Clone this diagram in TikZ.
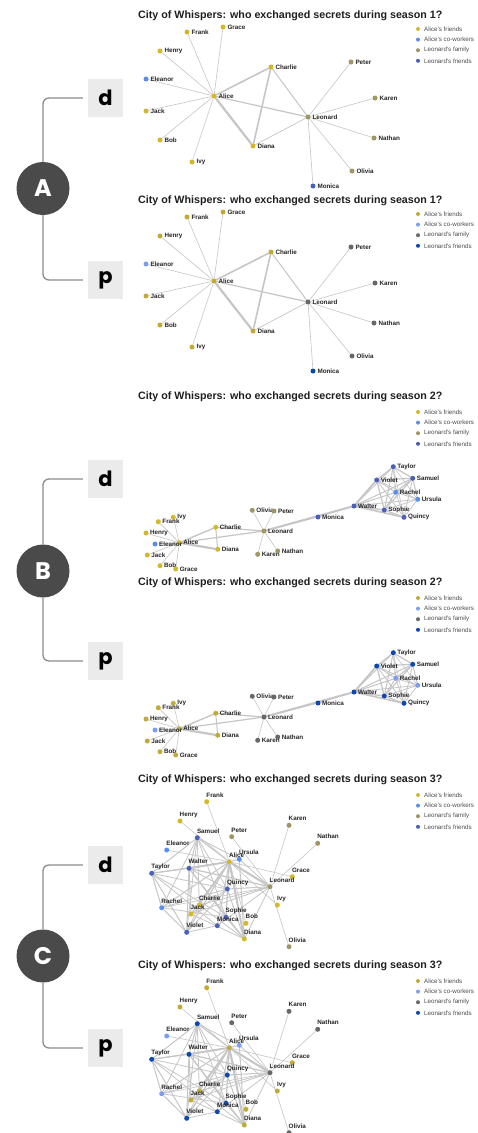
\documentclass[tikz,border=0pt]{standalone}
\usepackage{fontspec}
\setmainfont{Liberation Sans}
\newfontfamily\badgefont{Poppins}
\pgfdeclarelayer{background}
\pgfdeclarelayer{canvas}
\pgfsetlayers{canvas,background,main}
\definecolor{dF}{HTML}{D4B829}
\definecolor{dC}{HTML}{5A8EEF}
\definecolor{dL}{HTML}{A09565}
\definecolor{dN}{HTML}{4A60BA}
\definecolor{pF}{HTML}{C3A935}
\definecolor{pC}{HTML}{7B9EF2}
\definecolor{pL}{HTML}{686868}
\definecolor{pN}{HTML}{0B47B5}
\definecolor{edgec}{HTML}{C6C6C6}
\definecolor{badge}{HTML}{4A4A4A}
\definecolor{boxc}{HTML}{EBEBEB}
\definecolor{brk}{HTML}{8C8C8C}
\tikzset{
 dot/.style={circle, inner sep=0pt, minimum size=5pt},
 ldot/.style={circle, inner sep=0pt, minimum size=4pt},
 lbl/.style={font=\fontsize{6.3}{7}\selectfont\bfseries, text=black!85, inner sep=0pt},
 legtxt/.style={font=\fontsize{6.2}{7}\selectfont, text=black!70, inner sep=0pt, anchor=west},
 ttl/.style={font=\fontsize{10.7}{12}\selectfont\bfseries, text=black!88, inner sep=0pt, anchor=base west},
 edge/.style={draw=edgec, line cap=round},
 badgec/.style={circle, fill=badge, minimum size=53pt, inner sep=0pt, text=white, font=\badgefont\fontsize{24}{24}\selectfont\bfseries},
 tag/.style={fill=boxc, minimum width=35pt, minimum height=38pt, inner sep=0pt, font=\badgefont\fontsize{21}{21}\selectfont\bfseries},
 brack/.style={draw=brk, line width=1.3pt, rounded corners=6pt},
}
\newcommand\legendblock[3]{%
 \foreach \i/\c/\t in {0/F/Alice's friends,1/C/Alice's co-workers,2/L/Leonard's family,3/N/Leonard's friends}{
  \node[ldot, fill=#2\c] (#1-leg\i) at (418, #3+10.6*\i) {};
  \node[legtxt] (#1-legt\i) at (424, #3+10.6*\i) {\t};
 }}
\newcommand\titleblock[3]{\node[ttl] (#1-title) at (138,#2+4) {City of Whispers: who exchanged secrets during season #3?};}
% season 1
\newcommand\graphA[3]{%
 \foreach \n/\x/\y/\c in {Alice/214/96/F, Frank/187/32/F, Grace/223/27/F, Henry/160/51/F, Eleanor/146/79/C, Jack/146/111/F, Bob/160/140/F, Ivy/192/162/F, Charlie/271/67/F, Diana/253/146/F, Leonard/308/117/L, Peter/351/62/L, Karen/375/98/L, Nathan/374/138/L, Olivia/352/171/L, Monica/313/186/N}{
  \node[dot, fill=#2\c] (#1-\n) at (\x,\y+#3) {};
  \node[lbl, anchor=west] (#1-\n-l) at ([xshift=1.6pt]#1-\n.east) {\n};
 }
 \begin{pgfonlayer}{background}
 \foreach \a/\b/\w in {Alice/Frank/0.6, Alice/Grace/0.6, Alice/Henry/0.6, Alice/Eleanor/0.6, Alice/Jack/0.6, Alice/Bob/0.6, Alice/Ivy/0.6, Alice/Charlie/1.6, Alice/Diana/2.2, Alice/Leonard/1.2, Charlie/Diana/1.6, Charlie/Leonard/1.0, Diana/Leonard/0.7, Leonard/Peter/0.6, Leonard/Karen/0.6, Leonard/Nathan/0.6, Leonard/Olivia/0.6, Leonard/Monica/0.6}{
  \draw[edge, line width=\w pt] (#1-\a) -- (#1-\b);}
 \end{pgfonlayer}}
% season 2
\newcommand\graphB[3]{%
 \foreach \n/\x/\y/\c in {Taylor/393.3/466.7/N, Violet/376.7/480/N, Samuel/412.7/478.3/N, Rachel/395.7/492.3/C, Ursula/417.7/499.3/C, Walter/354/506/N, Sophie/384.3/510/N, Quincy/404/517.3/N, Monica/318/517/N, Olivia/252.3/510.3/L, Peter/274/511/L, Leonard/264/531/L, Charlie/215.7/527.3/F, Diana/217.7/549.3/F, Alice/179.3/542.7/F, Ivy/173.3/517.3/F, Frank/158.3/521.7/F, Henry/146/533/F, Eleanor/155/544/C, Jack/147.3/555/F, Bob/160/565.7/F, Grace/175.7/569/F, Karen/257.7/554.3/L, Nathan/277.7/551/L}{
  \node[dot, fill=#2\c] (#1-\n) at (\x,\y+#3) {};
  \node[lbl, anchor=west] (#1-\n-l) at ([xshift=1.2pt]#1-\n.east) {\n};
 }
 \begin{pgfonlayer}{background}
 \foreach \a/\b/\w in {Alice/Frank/0.6, Alice/Ivy/0.6, Alice/Henry/0.6, Alice/Eleanor/0.6, Alice/Jack/0.6, Alice/Bob/0.6, Alice/Grace/0.6, Alice/Charlie/1.4, Alice/Diana/2.2, Alice/Leonard/1.2, Charlie/Diana/1.0, Charlie/Leonard/1.2, Leonard/Olivia/0.6, Leonard/Peter/0.6, Leonard/Karen/0.6, Leonard/Nathan/0.6, Leonard/Walter/2.0, Leonard/Monica/0.8, Monica/Walter/0.8,
 Walter/Violet/1.8, Walter/Taylor/1.0, Walter/Samuel/1.0, Walter/Rachel/1.0, Walter/Ursula/0.8, Walter/Sophie/1.4, Walter/Quincy/1.6, Violet/Taylor/1.2, Violet/Samuel/1.2, Violet/Rachel/1.0, Violet/Ursula/0.8, Violet/Sophie/1.2, Violet/Quincy/0.8, Taylor/Samuel/1.2, Taylor/Rachel/1.0, Taylor/Ursula/0.6, Taylor/Sophie/1.0, Taylor/Quincy/0.6, Samuel/Rachel/1.0, Samuel/Ursula/1.0, Samuel/Sophie/1.2, Samuel/Quincy/0.8, Rachel/Ursula/0.8, Rachel/Sophie/1.0, Rachel/Quincy/0.8, Ursula/Sophie/0.8, Ursula/Quincy/0.8, Sophie/Quincy/1.2}{
  \draw[edge, line width=\w pt] (#1-\a) -- (#1-\b);}
 \end{pgfonlayer}}
% season 3
\newcommand\graphC[3]{%
 \foreach \n/\x/\y/\c in {Frank/206.7/801.7/F, Henry/180/821/F, Samuel/197.3/837.7/N, Peter/231.7/836.7/L, Karen/289/825.3/L, Nathan/317.7/843.3/L, Eleanor/166.7/850/C, Alice/229.3/861.7/F, Ursula/239.3/859.3/C, Walter/189/868.3/N, Taylor/151.7/873.3/N, Grace/292.3/876.7/F, Leonard/270/886.7/L, Quincy/227.3/889/N, Ivy/277.3/905/F, Rachel/161.7/907.7/C, Charlie/199.3/905/F, Jack/191/914/F, Sophie/226/917.3/N, Monica/217.3/925.7/N, Bob/246/923.3/F, Violet/186.7/932.3/N, Diana/244.3/939/F, Olivia/289/946.7/L}{
  \node[dot, fill=#2\c] (#1-\n) at (\x,\y+#3) {};
  \node[lbl, anchor=base west] (#1-\n-l) at (\x-0.5,\y+#3-4.5) {\n};
 }
 \begin{pgfonlayer}{background}
 \foreach \a/\b/\w in {Alice/Frank/0.6, Alice/Henry/0.6, Alice/Eleanor/0.6, Alice/Grace/0.6, Alice/Ivy/0.6, Alice/Bob/0.6, Leonard/Peter/0.6, Leonard/Karen/0.6, Leonard/Nathan/0.6, Leonard/Olivia/0.6,
 Alice/Leonard/2.0, Alice/Diana/2.0, Alice/Walter/1.8, Alice/Samuel/1.0, Alice/Taylor/1.0, Alice/Rachel/1.0, Alice/Violet/1.2, Alice/Jack/1.2, Alice/Charlie/1.0, Alice/Sophie/1.2, Alice/Quincy/1.0, Alice/Monica/1.0, Alice/Ursula/1.0,
 Walter/Leonard/1.2, Walter/Taylor/1.0, Walter/Samuel/1.0, Walter/Violet/1.0, Walter/Jack/1.0, Walter/Sophie/1.0, Walter/Diana/1.0, Walter/Quincy/0.8,
 Samuel/Taylor/1.0, Samuel/Rachel/0.8, Samuel/Violet/0.8, Samuel/Quincy/0.8, Samuel/Charlie/0.8, Samuel/Sophie/0.8, Samuel/Ursula/0.8,
 Taylor/Rachel/1.0, Taylor/Violet/1.0, Taylor/Quincy/0.8, Taylor/Sophie/0.8, Taylor/Monica/0.8,
 Rachel/Violet/1.0, Rachel/Quincy/0.8, Rachel/Sophie/0.8, Rachel/Leonard/0.6,
 Violet/Monica/0.8, Violet/Quincy/0.8, Violet/Charlie/0.8,
 Quincy/Leonard/1.0, Quincy/Jack/0.8, Quincy/Diana/1.0,
 Leonard/Charlie/0.8, Leonard/Diana/0.8, Leonard/Jack/0.8, Leonard/Monica/0.8,
 Charlie/Diana/0.8, Jack/Diana/0.8, Sophie/Diana/1.0, Monica/Sophie/0.8, Ursula/Diana/1.0, Ursula/Leonard/0.8}{
  \draw[edge, line width=\w pt] (#1-\a) -- (#1-\b);}
 \end{pgfonlayer}}
\begin{document}
\begin{tikzpicture}[x=1pt, y=-1pt]
\begin{pgfonlayer}{canvas}
\fill[white] (0,0) rectangle (478,1133);
\end{pgfonlayer}
\useasboundingbox (0,0) rectangle (478,1133);
% ---- A
\titleblock{ad}{14}{1}
\legendblock{ad}{d}{29}
\graphA{ad}{d}{0}
\titleblock{ap}{199}{1}
\legendblock{ap}{p}{214}
\graphA{ap}{p}{185}
% ---- B
\titleblock{bd}{395}{2}
\legendblock{bd}{d}{412}
\graphB{bd}{d}{0}
\titleblock{bp}{581}{2}
\legendblock{bp}{p}{598}
\graphB{bp}{p}{186}
% ---- C
\titleblock{cd}{778}{3}
\legendblock{cd}{d}{795}
\graphC{cd}{d}{0}
\titleblock{cp}{964}{3}
\legendblock{cp}{p}{981}
\graphC{cp}{p}{186}
% ---- badges and brackets
\node[badgec] (Abadge) at (43,188.5) {A};
\node[tag] (Ad) at (105.5,98) {d};
\node[tag] (Ap) at (105.5,280) {p};
\node[badgec] (Bbadge) at (43,571) {B};
\node[tag] (Bd) at (105.5,479) {d};
\node[tag] (Bp) at (105.5,661) {p};
\node[badgec] (Cbadge) at (43,956) {C};
\node[tag] (Cd) at (105.5,865) {d};
\node[tag] (Cp) at (105.5,1048) {p};
\foreach \b in {A,B,C}{
 \draw[brack] ([xshift=-5pt]\b d.west) -| (\b badge.north);
 \draw[brack] ([xshift=-5pt]\b p.west) -| (\b badge.south);
}
\end{tikzpicture}
\end{document}
